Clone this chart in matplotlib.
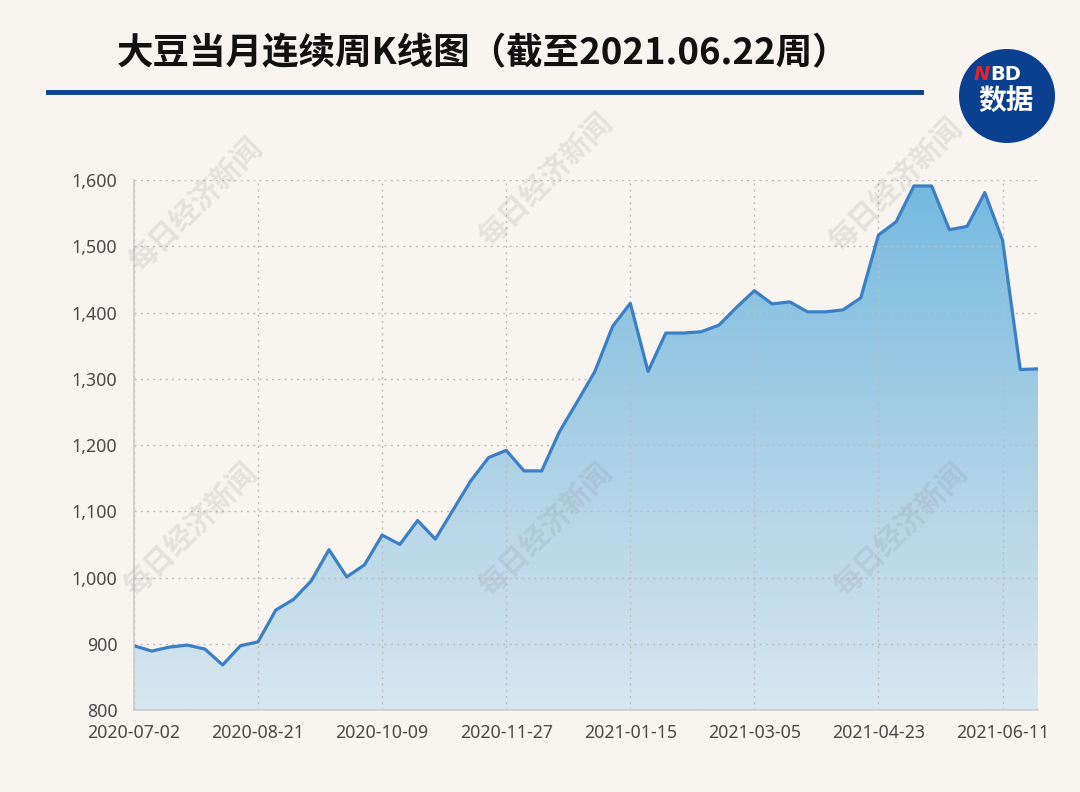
import numpy as np
import matplotlib.pyplot as plt
from matplotlib.colors import LinearSegmentedColormap
from matplotlib.patches import Ellipse

plt.rcParams['font.family'] = ['Noto Sans CJK SC', 'DejaVu Sans']

# weekly values, 2020-07-02 .. 2021-06-22
values = [897, 889, 895, 898, 892, 868, 897, 903, 951, 967,
          995, 1042, 1001, 1019, 1064, 1050, 1086, 1058, 1102, 1146,
          1181, 1192, 1161, 1161, 1220, 1265, 1311, 1379, 1414, 1311,
          1369, 1369, 1371, 1381, 1408, 1433, 1413, 1416, 1401, 1401,
          1404, 1422, 1517, 1537, 1591, 1591, 1525, 1530, 1581, 1509,
          1314, 1315]
tick_pos = [0, 7, 14, 21, 28, 35, 42, 49]
tick_labels = ['2020-07-02', '2020-08-21', '2020-10-09', '2020-11-27',
               '2021-01-15', '2021-03-05', '2021-04-23', '2021-06-11']
y_ticks = [800, 900, 1000, 1100, 1200, 1300, 1400, 1500, 1600]
title = '大豆当月连续周K线图（截至2021.06.22周）'

bg = '#f8f5f1'
fig = plt.figure(figsize=(10.8, 7.92), dpi=100, facecolor=bg)
ax = fig.add_axes([0.1241, 0.1035, 0.837, 0.6692], facecolor=bg)

x = np.arange(len(values))
ax.set_xlim(0, len(values) - 1)
ax.set_ylim(800, 1600)

# gradient fill under the line
cmap = LinearSegmentedColormap.from_list('g', ['#d8e7ef', '#a9d0e6', '#74b9e0'])
grad = np.linspace(0, 1, 256).reshape(-1, 1)
poly = ax.fill_between(x, values, 800, facecolor='none', edgecolor='none')
im = ax.imshow(grad, cmap=cmap, origin='lower', aspect='auto',
               extent=[0, len(values) - 1, 800, 1600], zorder=1)
im.set_clip_path(poly.get_paths()[0], transform=ax.transData)
ax.plot(x, values, color='#3d7fc4', lw=2.3, zorder=3)

ax.set_xticks(tick_pos)
ax.set_xticklabels(tick_labels)
ax.set_yticks(y_ticks)
ax.set_yticklabels([f'{v:,}' for v in y_ticks])
ax.tick_params(length=0, labelsize=12.8, colors='#4a4a4a')
ax.tick_params(axis='y', pad=12)
ax.tick_params(axis='x', pad=10)
for lab in ax.get_xticklabels() + ax.get_yticklabels():
    lab.set_fontfamily(['Noto Sans', 'DejaVu Sans'])
ax.grid(True, ls=(0, (1.5, 3)), color='#bdbdbd', lw=1, zorder=2)
ax.set_axisbelow(False)
for s in ['top', 'right']:
    ax.spines[s].set_visible(False)
for s in ['left', 'bottom']:
    ax.spines[s].set_color('#cccccc')
    ax.spines[s].set_linewidth(1.2)
    ax.spines[s].set_zorder(4)

# watermarks
for wx, wy in [(195, 205), (545, 180), (895, 185), (190, 530), (545, 530), (900, 530)]:
    fig.text(wx / 1080, 1 - wy / 792, '每日经济新闻', rotation=45, ha='center', va='center',
             fontsize=21, fontweight='bold', color='#8a8a8a', alpha=0.18, zorder=5)

# title and rule
fig.text(117 / 1080, 1 - 54 / 792, title, fontsize=26.3, fontweight='bold',
         color='#111111', ha='left', va='center')
fig.add_artist(plt.Line2D([48 / 1080, 921 / 1080], [1 - 92 / 792, 1 - 92 / 792],
                          color='#0b3f8f', lw=3.5))

# logo
fig.add_artist(Ellipse((1007 / 1080, 1 - 96 / 792), 96 / 1080, 94 / 792,
                       transform=fig.transFigure, facecolor='#0b3f8f', edgecolor='none'))
fig.text(990 / 1080, 1 - 74 / 792, 'N', fontsize=14, fontweight='bold', style='italic',
         color='#e0262b', ha='right', va='center', family='DejaVu Sans')
fig.text(990 / 1080, 1 - 74 / 792, 'BD', fontsize=14, fontweight='bold',
         color='white', ha='left', va='center', family='DejaVu Sans')
fig.text(1006 / 1080, 1 - 102 / 792, '数据', fontsize=20, fontweight='bold',
         color='white', ha='center', va='center')

fig.savefig('out.png', dpi=100, facecolor=bg)
